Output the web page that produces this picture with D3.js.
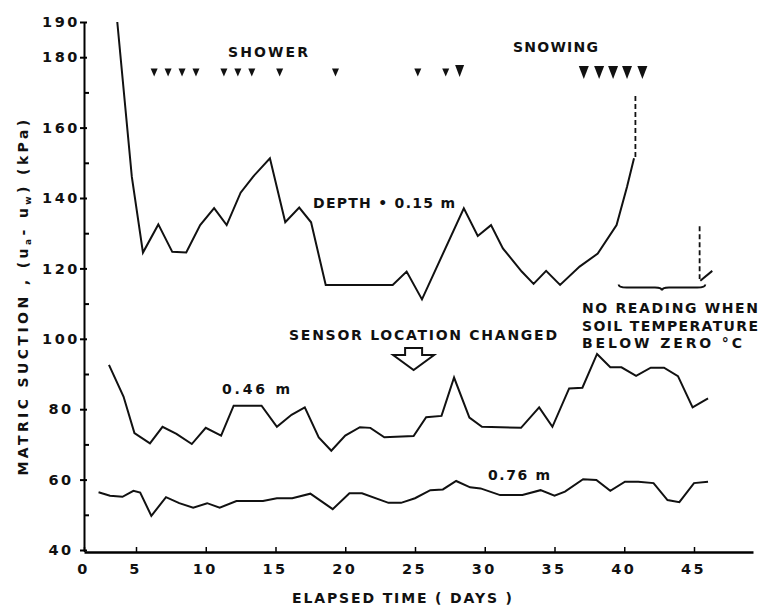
<!DOCTYPE html>
<html>
<head>
<meta charset="utf-8">
<script src="https://cdn.jsdelivr.net/npm/d3@7"></script>
<style>
  body { margin: 0; background: #fff; }
  svg text { font-family: "DejaVu Sans", sans-serif; font-weight: bold; fill: #111; }
</style>
</head>
<body>
<div id="chart"></div>
<script>
// readings (elapsed days, matric suction kPa)
const day015 = [3.2, 4.6, 5.5, 6.6, 7.6, 8.6, 9.6, 10.6, 11.5, 12.5, 13.4, 14.6, 15.7, 16.7, 17.55, 18.6, 23.4, 24.4, 25.5, 28.5, 29.5, 30.45, 31.3, 32.65, 33.5, 34.4, 35.4, 36.8, 38.1, 39.45, 40.2, 40.7];
const kpa015 = [190, 146, 124.5, 132.5, 124.7, 124.5, 132.3, 137.1, 132.3, 141.5, 146.1, 151.3, 133.1, 137.3, 133.1, 115.3, 115.3, 119.1, 111.2, 137.1, 129.2, 132.3, 125.7, 119.1, 115.6, 119.3, 115.3, 120.5, 124.2, 132.3, 143.2, 151.3];
const day015b = [45.45, 46.3];
const kpa015b = [116.5, 119.3];

const day046 = [2.4, 3.8, 4.85, 6.0, 6.9, 7.9, 9.0, 10.0, 11.1, 12.0, 14.0, 15.1, 16.15, 17.1, 18.1, 19.0, 20.0, 21.05, 21.8, 22.8, 24.9, 25.8, 26.9, 27.8, 28.9, 29.8, 32.6, 33.9, 34.85, 36.05, 37.0, 38.05, 39.0, 39.8, 40.85, 41.9, 42.85, 43.85, 44.9, 46.0];
const kpa046 = [92.6, 83.6, 73.2, 70.3, 75.0, 73.0, 70.1, 74.7, 72.5, 81.0, 81.0, 75.0, 78.4, 80.5, 72.0, 68.2, 72.5, 74.9, 74.7, 72.0, 72.4, 77.7, 78.1, 89.0, 77.6, 75.0, 74.7, 80.5, 75.0, 85.9, 86.1, 95.7, 91.9, 91.9, 89.5, 91.8, 91.8, 89.4, 80.5, 83.1];

const day076 = [1.4, 2.5, 3.7, 4.75, 5.3, 6.1, 7.15, 8.1, 9.1, 10.1, 11.0, 12.2, 14.1, 15.1, 16.2, 17.5, 19.1, 20.3, 21.2, 23.1, 24.0, 25.0, 26.1, 27.0, 27.95, 28.95, 29.7, 31.1, 32.7, 34.0, 35.0, 35.75, 37.05, 38.0, 39.0, 40.05, 41.0, 42.1, 43.1, 43.95, 45.0, 46.0];
const kpa076 = [56.4, 55.4, 55.1, 56.8, 56.3, 49.7, 55.0, 53.3, 52.0, 53.3, 52.0, 53.9, 53.9, 54.7, 54.7, 56.0, 51.6, 56.1, 56.1, 53.4, 53.4, 54.7, 57.0, 57.2, 59.6, 57.8, 57.5, 55.6, 55.6, 57.0, 55.4, 56.6, 60.1, 59.9, 56.8, 59.4, 59.4, 59.0, 54.2, 53.6, 59.0, 59.4];

// weather marks
const showerDays = [6.3, 7.3, 8.3, 9.3, 11.3, 12.3, 13.3, 15.3, 19.3, 25.2, 27.2];
const bigRainDays = [28.2];
const snowDays = [37.1, 38.2, 39.2, 40.2, 41.3];

// dashed "no reading" segments and gap
const gapDays = [40.8, 45.4];
const gapTop = [169, 132];
const gapBottom = [151.3, 117];
const braceDays = [39.6, 45.8];
const braceKpa = 114.6;

const xTicks = [0, 5, 10, 15, 20, 25, 30, 35, 40, 45];
const yTicks = [40, 60, 80, 100, 120, 140, 160, 180, 190];
const yMinor = [50, 70, 90, 110, 130, 150, 170];

const W = 761, H = 605;
const svg = d3.select("#chart").append("svg").attr("width", W).attr("height", H);

// the original axis squeezes the 0-5 interval
const x = d3.scaleLinear().domain([0, 5, 45, 49.2]).range([84, 136, 694, 753]);
const y = d3.scaleLinear().domain([40, 190]).range([550, 22]);

// axes
const yAx = svg.append("g").attr("transform", `translate(${x(0)},0)`)
  .call(d3.axisLeft(y).tickValues(yTicks).tickSize(4).tickSizeOuter(0).tickPadding(6));
yAx.select(".domain").attr("stroke-width", 2);
yAx.selectAll(".tick line").attr("stroke-width", 2).attr("x2", -4).attr("x1", 3);
yAx.selectAll(".tick text").attr("text-anchor", "middle").attr("x", -23)
  .style("font-size", "14.5px").style("letter-spacing", "2.5px");

svg.append("g").attr("transform", `translate(${x(0)},0)`)
  .call(d3.axisRight(y).tickValues(yMinor).tickSize(5).tickFormat(""))
  .call(g => g.select(".domain").remove())
  .selectAll("line").attr("stroke-width", 2);

const xAx = svg.append("g").attr("transform", `translate(0,${y(40) + 2})`)
  .call(d3.axisBottom(x).tickValues(xTicks).tickSizeInner(-5).tickSizeOuter(0).tickPadding(12));
xAx.select(".domain").attr("stroke-width", 2.5);
xAx.selectAll(".tick line").attr("stroke-width", 1.5);
xAx.selectAll(".tick text").style("font-size", "14.5px").style("letter-spacing", "2.5px").attr("dx", -1);

// series
const line = d3.line().x(d => x(d[0])).y(d => y(d[1]));
const series = [
  d3.zip(day015, kpa015),
  d3.zip(day015b, kpa015b),
  d3.zip(day046, kpa046),
  d3.zip(day076, kpa076)
];
svg.append("g").selectAll("path").data(series).join("path")
  .attr("d", line).attr("fill", "none").attr("stroke", "#111")
  .attr("stroke-width", 2).attr("stroke-linejoin", "miter");

// dashed no-reading marks
svg.append("g").selectAll("line").data(gapDays).join("line")
  .attr("x1", d => x(d)).attr("x2", d => x(d))
  .attr("y1", (d, i) => y(gapTop[i])).attr("y2", (d, i) => y(gapBottom[i]))
  .attr("stroke", "#111").attr("stroke-width", 1.8).attr("stroke-dasharray", "5,3");

// curly brace for the gap
{
  const x0 = x(braceDays[0]), x1 = x(braceDays[1]), xm = (x0 + x1) / 2, yb = y(braceKpa);
  svg.append("path")
    .attr("d", `M${x0},${yb - 3} Q${x0},${yb} ${x0 + 8},${yb} L${xm - 7},${yb} Q${xm},${yb} ${xm},${yb + 3} Q${xm},${yb} ${xm + 7},${yb} L${x1 - 8},${yb} Q${x1},${yb} ${x1},${yb - 3}`)
    .attr("fill", "none").attr("stroke", "#111").attr("stroke-width", 2);
}

// weather triangles
const tri = (d, w, h, top) => {
  const cx = x(d), t = y(top);
  return `M${cx - w / 2},${t} L${cx + w / 2},${t} L${cx},${t + h} Z`;
};
const marks = svg.append("g").attr("fill", "#111");
marks.selectAll(".s").data(showerDays).join("path").attr("class", "s").attr("d", d => tri(d, 7, 8, 176.8));
marks.selectAll(".b").data(bigRainDays).join("path").attr("class", "b").attr("d", d => tri(d, 9, 12, 177.8));
marks.selectAll(".n").data(snowDays).join("path").attr("class", "n").attr("d", d => tri(d, 10, 13, 177.5));

// sensor-change arrow
{
  const ax = x(24.9), ay = y(97.4);
  const pts = [[-8.5, 0], [8.5, 0], [8.5, 7], [20.5, 7], [0, 22], [-20.5, 7], [-8.5, 7]];
  svg.append("path").attr("d", "M" + pts.map(p => [ax + p[0], ay + p[1]].join(",")).join("L") + "Z")
    .attr("fill", "#fff").attr("stroke", "#111").attr("stroke-width", 2);
}

// labels
const label = (txt, px, py, len, size) => svg.append("text")
  .attr("x", px).attr("y", py).attr("textLength", len).attr("lengthAdjust", "spacing")
  .style("font-size", (size || 14) + "px").text(txt);

label("SHOWER", 228, 57, 80);
label("SNOWING", 513, 52, 85);
label("DEPTH • 0.15 m", 313, 208, 142);
label("0.46 m", 222, 394, 68);
label("0.76 m", 488, 480, 62);
label("SENSOR LOCATION CHANGED", 289, 340, 268);
label("NO READING WHEN", 582, 313, 176);
label("SOIL TEMPERATURE", 582, 331, 176);
label("BELOW  ZERO  °C", 582, 348, 160);

svg.append("text").attr("x", 292).attr("y", 603).attr("textLength", 220)
  .attr("lengthAdjust", "spacing").style("font-size", "14px")
  .text("ELAPSED TIME ( DAYS )");

// y title with subscripts
const yt = svg.append("text").attr("transform", "translate(28,296) rotate(-90)")
  .attr("text-anchor", "middle").style("font-size", "14px").style("letter-spacing", "3.4px");
yt.append("tspan").text("MATRIC SUCTION , (u");
yt.append("tspan").attr("dy", 3).style("font-size", "9px").text("a");
yt.append("tspan").attr("dy", -3).text("- u");
yt.append("tspan").attr("dy", 3).style("font-size", "9px").text("w");
yt.append("tspan").attr("dy", -3).text(") (kPa)");
</script>
</body>
</html>
